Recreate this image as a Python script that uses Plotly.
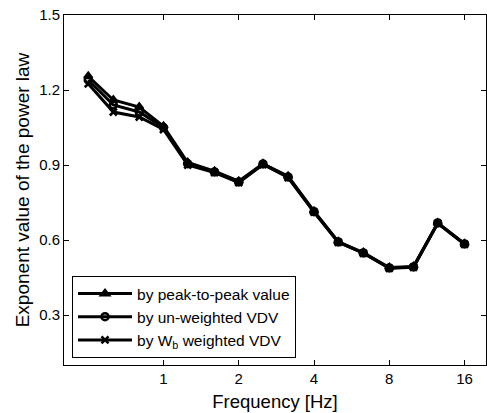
import plotly.graph_objects as go

freq = [0.5, 0.63, 0.8, 1, 1.25, 1.6, 2, 2.5, 3.15, 4, 5, 6.3, 8, 10, 12.5, 16]
peak_to_peak = [1.255, 1.16, 1.132, 1.055, 0.91, 0.875, 0.835, 0.905, 0.855, 0.715, 0.593, 0.55, 0.49, 0.494, 0.668, 0.585]
unweighted = [1.24, 1.14, 1.112, 1.05, 0.905, 0.872, 0.832, 0.904, 0.852, 0.713, 0.592, 0.548, 0.488, 0.492, 0.668, 0.584]
wb_weighted = [1.225, 1.112, 1.092, 1.042, 0.90, 0.87, 0.83, 0.902, 0.85, 0.712, 0.591, 0.547, 0.487, 0.491, 0.667, 0.583]
names = ["by peak-to-peak value", "by un-weighted VDV", "by W<sub>b</sub> weighted VDV"]
x_ticks = [1, 2, 4, 8, 16]
y_ticks = [0.3, 0.6, 0.9, 1.2, 1.5]

font = "Liberation Sans, Arial, sans-serif"
fig = go.Figure()
series = [peak_to_peak, unweighted, wb_weighted]
symbols = ["triangle-up", "circle-open", "x-thin-open"]
for i, (vals, nm, sym) in enumerate(zip(series, names, symbols)):
    fig.add_trace(go.Scatter(
        x=freq, y=vals, name=nm, mode="lines+markers",
        line=dict(color="black", width=3),
        marker=dict(symbol=sym, size=7, color="black",
                    line=dict(color="black", width=2.5)),
        legendgroup=str(i),
    ))

axis_common = dict(showline=True, linecolor="black", linewidth=1, mirror="ticks",
                   ticks="inside", ticklen=5, tickcolor="black", showgrid=False,
                   zeroline=False, tickfont=dict(size=15, color="black", family=font))
fig.update_xaxes(type="log", range=[-0.398, 1.29], tickvals=x_ticks,
                 ticktext=[str(v) for v in x_ticks],
                 title=dict(text="Frequency [Hz]", font=dict(size=18.5, family=font, color="black"), standoff=9),
                 **axis_common)
fig.update_yaxes(range=[0.1, 1.5], tickvals=y_ticks,
                 ticktext=[f"{v:.1f}" for v in y_ticks],
                 title=dict(text="Exponent value of the power law", font=dict(size=19, family=font, color="black"), standoff=4),
                 **axis_common)
fig.update_layout(
    width=487, height=413,
    margin=dict(l=64, r=1, t=15, b=48),
    plot_bgcolor="white", paper_bgcolor="white",
    font=dict(family=font, color="black"),
    legend=dict(x=0.019, y=0.02, xanchor="left", yanchor="bottom",
                bordercolor="black", borderwidth=1, bgcolor="white",
                font=dict(size=15.5, family=font, color="black"),
                itemwidth=54, tracegroupgap=3, traceorder="normal"),
)
fig.write_html("out.html")
